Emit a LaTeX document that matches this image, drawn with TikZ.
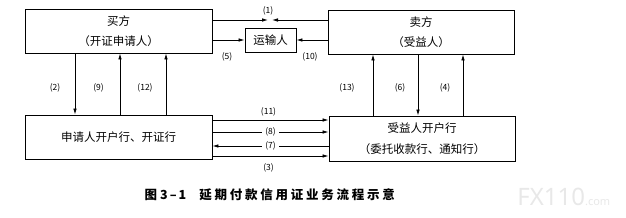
\documentclass[tikz,border=0pt]{standalone}
\usepackage{fontspec}
\setmainfont{Noto Sans CJK SC}
\newfontfamily\capfont[LetterSpace=22]{Noto Sans CJK SC}
\newfontfamily\markfont{Noto Sans}
\usepackage{tikz}
\usetikzlibrary{arrows.meta}

\begin{document}
\begin{tikzpicture}[x=1pt, y=-1pt, line width=0.8pt, every node/.style={font=\fontsize{11.5}{20.5}\selectfont}, >={Latex[length=6pt,width=3.6pt]}, box/.style={draw, line width=0.9pt, inner sep=0pt, align=center}, num/.style={font=\fontsize{8.5}{8.5}\selectfont, inner sep=1pt}]
	\useasboundingbox (0,0) rectangle (626,217);
	\node[box, minimum width=187pt, minimum height=44pt] (buyer) at (118.5,31) {买方\\（开证申请人）};
	\node[box, minimum width=186pt, minimum height=44pt] (seller) at (421,32) {卖方\\（受益人）};
	\node[box, minimum width=51pt, minimum height=24pt] (carrier) at (270.5,40) {运输人};
	\node[box, minimum width=187pt, minimum height=44pt] (issuer) at (118.5,137) {申请人开户行、开证行};
	\node[box, minimum width=186pt, minimum height=45pt] (advising) at (422,138.5) {受益人开户行\\（委托收款行、通知行）};
	\coordinate (m1) at (270,20);
	\draw[->] (buyer.east |- m1) -- ([xshift=-2pt]m1);
	\draw[->] (seller.west |- m1) -- ([xshift=2pt]m1);
	\node[num] (n1) at (268,11) {(1)};
	\draw[->] (buyer.east |- carrier.west) -- (carrier.west);
	\draw[->] (seller.west |- carrier.east) -- (carrier.east);
	\node[num] (n5) at (227,57) {(5)};
	\node[num] (n10) at (310,57) {(10)};
	\foreach \px/\tip/\lx/\lab/\nm in {75/->/55/(2)/n2, 120/<-/98.5/(9)/n9, 166/<-/145/(12)/n12}
	{
		\coordinate (v) at (\px,0);
		\draw[\tip] (buyer.south -| v) -- (issuer.north -| v);
		\node[num] (\nm) at (\lx,88) {\lab};
	}
	\foreach \px/\tip/\lx/\lab/\nm in {373/<-/347/(13)/n13, 418/->/400/(6)/n6, 463/<-/445/(4)/n4}
	{
		\coordinate (v) at (\px,0);
		\draw[\tip] (seller.south -| v) -- (advising.north -| v);
		\node[num] (\nm) at (\lx,88) {\lab};
	}
	\coordinate (h11) at (0,120);
	\coordinate (h8) at (0,132);
	\coordinate (h7) at (0,146);
	\coordinate (h3) at (0,156);
	\draw[->] (issuer.east |- h11) -- (advising.west |- h11);
	\node[num] (n11) at (268.5,111.5) {(11)};
	\draw[->] (issuer.east |- h8) -- node[num, fill=white, inner xsep=3pt] (n8) {(8)} (advising.west |- h8);
	\draw[<-] (issuer.east |- h7) -- node[num, fill=white, inner xsep=3pt] (n7) {(7)} (advising.west |- h7);
	\draw[->] (issuer.east |- h3) -- (advising.west |- h3);
	\node[num] (n3) at (268.5,167.5) {(3)};
	\node[anchor=west, font=\capfont\bfseries\fontsize{12.5}{12.5}\selectfont] (caption) at (141,195) {图\hspace{3pt}3\hspace{2pt}–\hspace{2pt}1\hspace{13pt}延期付款信用证业务流程示意};
	\node[anchor=base west, inner sep=0pt, text=gray!18, font=\markfont\bfseries\fontsize{24}{24}\selectfont] (mark) at (517,205) {FX110\fontsize{11}{11}\selectfont.com};
\end{tikzpicture}
\end{document}
